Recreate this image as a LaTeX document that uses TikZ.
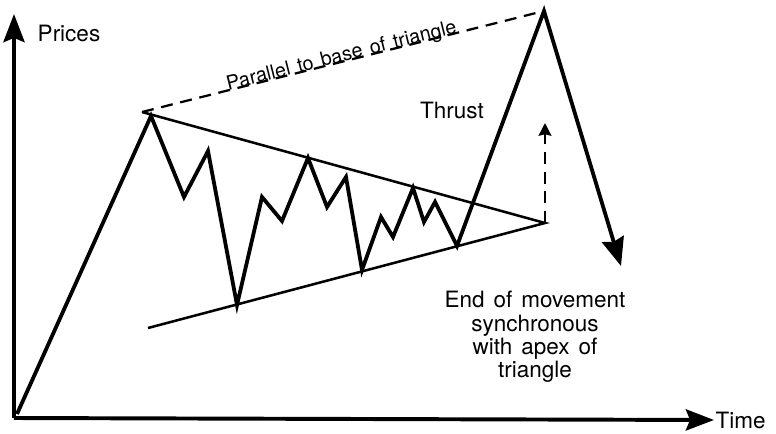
\documentclass[tikz,border=0pt]{standalone}
\usepackage{fontspec}
\setmainfont{TeX Gyre Heros}
\usetikzlibrary{arrows.meta, positioning}
\tikzset{
  axis/.style={line width=2.8pt, -{Stealth[length=20pt, width=15pt, inset=3pt]}},
  price/.style={line width=2.7pt, line join=miter},
  trendline/.style={line width=1.8pt},
  guide/.style={line width=1.6pt, dash pattern=on 8.5pt off 5.5pt},
  guidearrow/.style={line width=1.8pt, dash pattern=on 8.5pt off 5.5pt, -{Stealth[length=9pt, width=9pt, inset=1pt]}},
  label/.style={font=\fontsize{16}{16.5}\selectfont, inner sep=1pt},
  smalllabel/.style={font=\fontsize{14}{16}\selectfont, inner sep=1pt}
}
\newcommand{\wsp}{\ \hspace{0.12em}}
\begin{document}
\begin{tikzpicture}[x=0.025cm, y=-0.025cm]
\useasboundingbox (0,0) rectangle (776,434);
% axes
\coordinate (origin) at (14,418);
\coordinate (ytop) at (14,14);
\node[label, anchor=west] (time) at (714,420) {Time};
\node[label] (prices) at (69,33) {Prices};
\draw[axis] (origin) -- (time.west);
\draw[axis] (origin) -- (ytop);
% triangle
\coordinate (upper) at (142,112);
\coordinate (lower) at (148,328);
\coordinate (apex) at (545,223);
\draw[trendline] (upper) -- (apex) -- (lower);
% price path
\coordinate (p0) at (17,414);
\coordinate (p1) at (151,116);
\coordinate (p2) at (184,197);
\coordinate (p3) at (208,151);
\coordinate (p4) at (237,305);
\coordinate (p5) at (262,197);
\coordinate (p6) at (282,221);
\coordinate (p7) at (308,158);
\coordinate (p8) at (327,207);
\coordinate (p9) at (346,177);
\coordinate (p10) at (362,270);
\coordinate (p11) at (381,217);
\coordinate (p12) at (393,237);
\coordinate (p13) at (413,188);
\coordinate (p14) at (424,222);
\coordinate (p15) at (435,202);
\coordinate (p16) at (457,246);
\coordinate (peak) at (544,11);
\coordinate (drop) at (621,266);
\draw[price, -{Stealth[length=20pt, width=16pt, inset=2pt]}] (p0) -- (p1) -- (p2) -- (p3) -- (p4) -- (p5) -- (p6) -- (p7) -- (p8)
  -- (p9) -- (p10) -- (p11) -- (p12) -- (p13) -- (p14) -- (p15) -- (p16) -- (peak) -- (drop);
% parallel line and thrust
\draw[guide] (upper) -- node[smalllabel, sloped, anchor=base, pos=0.5] (parallel) {Parallel\wsp to\wsp base\wsp of\wsp triangle} (peak);
\coordinate (thrusttop) at (545,123);
\draw[guidearrow] (apex) -- (thrusttop);
\node[label] (thrust) at (452,110) {Thrust};
\node[label, align=center] (endnote) at (535,337) {End\wsp of\wsp movement\\synchronous\\with\wsp apex\wsp of\\triangle};
\end{tikzpicture}
\end{document}
